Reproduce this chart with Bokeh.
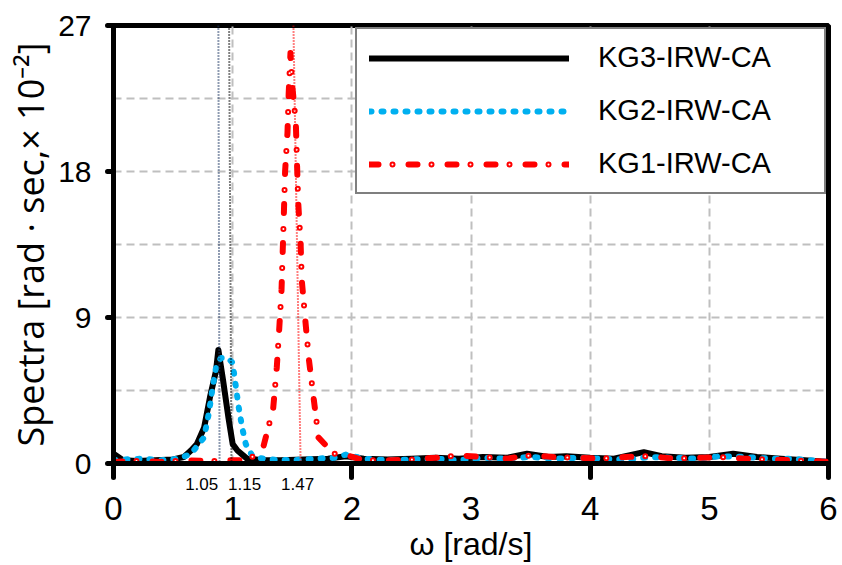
from bokeh.plotting import figure
from bokeh.models import FixedTicker, Legend, LegendItem, Range1d, LinearAxis
from bokeh.embed import file_html
from bokeh.resources import INLINE

# ---------------- data ----------------
kg3_w = [0, 0.08, 0.2, 0.35, 0.5, 0.59, 0.65, 0.7, 0.76, 0.81, 0.86, 0.88, 0.92, 0.965, 1.0, 1.04,
         1.12, 1.25, 1.4, 1.6, 1.8, 1.95, 2.1, 2.3, 2.5, 2.7, 2.9, 3.1, 3.3, 3.47, 3.65, 3.8, 4.0,
         4.2, 4.45, 4.6, 4.8, 5.0, 5.2, 5.4, 5.6, 5.8, 6.0]
kg3_s = [0.6, 0.2, 0.15, 0.2, 0.25, 0.4, 0.8, 1.2, 2.2, 4.1, 5.7, 7.0, 5.1, 2.8, 1.2, 0.8,
         0.3, 0.2, 0.2, 0.25, 0.3, 0.45, 0.3, 0.25, 0.3, 0.35, 0.3, 0.4, 0.35, 0.6, 0.4, 0.45, 0.35,
         0.3, 0.7, 0.45, 0.35, 0.4, 0.6, 0.4, 0.3, 0.2, 0.1]

kg2_w = [0, 0.1, 0.25, 0.4, 0.55, 0.65, 0.76, 0.8, 0.83, 0.86, 0.9, 0.96, 1.0, 1.02, 1.05, 1.08,
         1.11, 1.17, 1.3, 1.5, 1.7, 1.85, 1.95, 2.1, 2.3, 2.5, 2.7, 2.9, 3.1, 3.3, 3.5, 3.7, 3.9,
         4.1, 4.3, 4.5, 4.7, 4.9, 5.1, 5.3, 5.5, 5.7, 6.0]
kg2_s = [0.2, 0.25, 0.3, 0.2, 0.3, 0.6, 1.6, 3.1, 4.6, 5.9, 6.5, 6.5, 6.2, 5.1, 3.5, 2.2,
         1.2, 0.4, 0.25, 0.2, 0.3, 0.35, 0.55, 0.3, 0.2, 0.25, 0.3, 0.2, 0.35, 0.3, 0.4, 0.3, 0.35,
         0.3, 0.25, 0.4, 0.35, 0.3, 0.45, 0.4, 0.3, 0.3, 0.1]

kg1_w = [0, 0.2, 0.4, 0.6, 0.8, 1.0, 1.1, 1.15, 1.26, 1.34, 1.37, 1.39, 1.41, 1.42, 1.43, 1.44,
         1.46, 1.47, 1.485, 1.5, 1.53, 1.54, 1.55, 1.57, 1.58, 1.61, 1.64, 1.68, 1.72, 1.85, 1.96,
         2.1, 2.3, 2.5, 2.7, 2.9, 3.1, 3.3, 3.5, 3.7, 3.9, 4.1, 4.3, 4.5, 4.7, 4.9, 5.1, 5.3, 5.5,
         5.7, 6.0]
kg1_s = [0.1, 0.15, 0.1, 0.2, 0.15, 0.2, 0.2, 0.3, 1.1, 3.4, 5.9, 8.2, 10.7, 13.1, 15.5, 18.0,
         20.4, 22.8, 25.3, 23.3, 21.0, 18.5, 16.1, 13.6, 11.3, 8.8, 6.4, 4.0, 1.6, 0.6, 0.5,
         0.2, 0.2, 0.25, 0.35, 0.5, 0.4, 0.3, 0.5, 0.4, 0.35, 0.3, 0.4, 0.45, 0.3, 0.35, 0.4, 0.3, 0.25,
         0.2, 0.1]

series_names = ["KG3-IRW-CA", "KG2-IRW-CA", "KG1-IRW-CA"]

# peak marker lines (top / bottom positions as drawn) and their labels
marker_top = [0.88, 0.97, 1.51]
marker_bottom = [0.89, 0.99, 1.57]
marker_labels = ["1.05", "1.15", "1.47"]
marker_label_x = [0.74, 1.10, 1.545]

x_ticks = [0, 1, 2, 3, 4, 5, 6]
x_minor = [0, 2, 4, 6]
y_ticks = [0, 9, 18, 27]
y_grid = [4.5, 9, 13.5, 18, 22.5]
x_grid = [1, 2, 3, 4, 5]

# ---------------- figure ----------------
p = figure(width=840, height=565, x_range=Range1d(0, 6), y_range=Range1d(0, 27),
           output_backend="svg", toolbar_location=None,
           min_border_left=113, min_border_right=12, min_border_top=25, min_border_bottom=102)

p.outline_line_color = "black"
p.outline_line_width = 5

p.xgrid.ticker = FixedTicker(ticks=x_grid)
p.ygrid.ticker = FixedTicker(ticks=y_grid)
for g in (p.xgrid, p.ygrid):
    g.grid_line_color = "#bfbfbf"
    g.grid_line_width = 2
    g.grid_line_dash = "8 5"

# inner x axis: axis line, ticks at 0/2/4/6 and the peak-frequency labels
xa = p.xaxis[0]
xa.ticker = FixedTicker(ticks=marker_label_x, minor_ticks=x_minor)
xa.major_label_overrides = {float(k): v for k, v in zip(marker_label_x, marker_labels)}
xa.axis_line_width = 5
xa.axis_line_color = "black"
xa.major_tick_out = 0
xa.major_tick_in = 0
xa.major_tick_line_color = None
xa.minor_tick_out = 14
xa.minor_tick_in = 0
xa.minor_tick_line_width = 5
xa.minor_tick_line_color = "black"
xa.minor_tick_line_cap = "round"
xa.major_label_text_font = "Liberation Sans"
xa.major_label_text_font_size = "17px"
xa.major_label_text_color = "black"
xa.major_label_standoff = 0

# outer x axis: the 0..6 labels and the axis title
xb = LinearAxis(ticker=FixedTicker(ticks=x_ticks))
xb.axis_line_color = None
xb.major_tick_line_color = None
xb.minor_tick_line_color = None
xb.major_tick_out = 0
xb.major_tick_in = 0
xb.major_label_text_font = "Liberation Sans"
xb.major_label_text_font_size = "33px"
xb.major_label_text_color = "black"
xb.major_label_standoff = 4
xb.axis_label = "ω [rad/s]"
xb.axis_label_text_font = "Liberation Sans"
xb.axis_label_text_font_style = "normal"
xb.axis_label_text_font_size = "32px"
xb.axis_label_text_color = "black"
xb.axis_label_standoff = 3
p.add_layout(xb, "below")

ya = p.yaxis[0]
ya.ticker = FixedTicker(ticks=y_ticks)
ya.axis_line_width = 5
ya.axis_line_color = "black"
ya.major_tick_out = 6
ya.major_tick_in = 0
ya.major_tick_line_width = 5
ya.major_tick_line_cap = "round"
ya.major_tick_line_color = "black"
ya.minor_tick_line_color = None
ya.major_label_text_font = "Liberation Sans"
ya.major_label_text_font_size = "30px"
ya.major_label_text_color = "black"
ya.major_label_standoff = 16
ya.axis_label = "Spectra [rad · sec,× 10⁻²]"
ya.axis_label_text_font = "Open Sans"
ya.axis_label_text_font_style = "normal"
ya.axis_label_text_font_size = "36px"
ya.axis_label_text_color = "black"
ya.axis_label_standoff = 0

# ---------------- curves ----------------
r3 = p.line(kg3_w, kg3_s, line_color="black", line_width=6, line_cap="round", line_join="round")
r2 = p.line(kg2_w, kg2_s, line_color="#00b0f0", line_width=6, line_cap="round", line_join="round",
            line_dash="2 10")
r1 = p.line(kg1_w, kg1_s, line_color="#ff0000", line_width=6, line_cap="round", line_join="round",
            line_dash="9 14 0 16")
r1w = p.line(kg1_w, kg1_s, line_color="white", line_width=2, line_cap="round",
             line_dash="0 39", line_dash_offset=16)

# peak marker lines
marker_colors = ["#1f3864", "black", "#ff0000"]
for xt, xbm, c in zip(marker_top, marker_bottom, marker_colors):
    p.segment(x0=[xt], y0=[27], x1=[xbm], y1=[0], line_color=c, line_width=2, line_dash="1 2")

legend = Legend(items=[LegendItem(label=series_names[0], renderers=[r3]),
                       LegendItem(label=series_names[1], renderers=[r2]),
                       LegendItem(label=series_names[2], renderers=[r1, r1w])],
                location="top_right", margin=2, glyph_width=200, glyph_height=32,
                label_height=32, label_width=214, spacing=20, padding=12, label_standoff=29,
                label_text_font="Liberation Sans", label_text_font_size="29px",
                label_text_color="black", border_line_color="black", border_line_width=2,
                background_fill_color="white", background_fill_alpha=1)
p.add_layout(legend)

open("out.html", "w").write(file_html(p, INLINE))
